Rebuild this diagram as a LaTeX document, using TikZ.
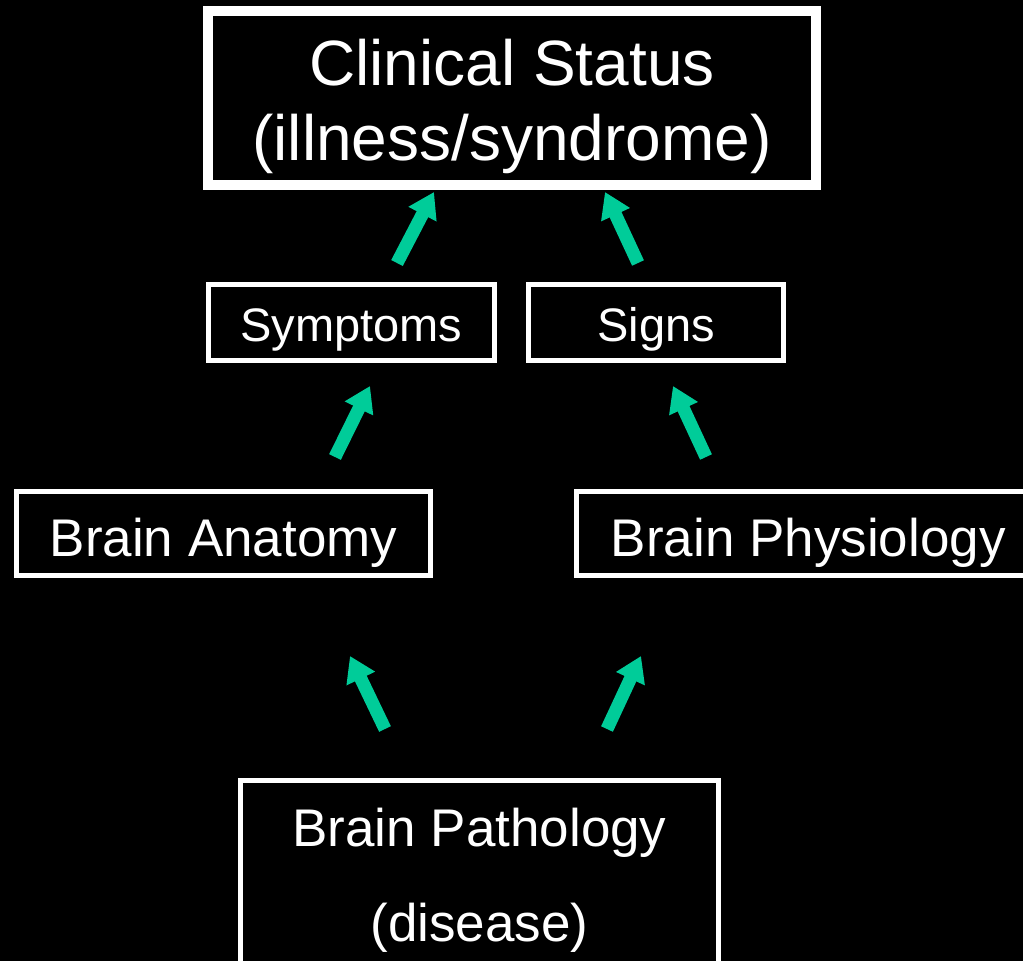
\documentclass[tikz,border=0pt]{standalone}
\usepackage{fontspec}
\setmainfont{Liberation Sans}
\usetikzlibrary{arrows.meta}
\definecolor{arrowgreen}{RGB}{0,204,153}
\begin{document}
\begin{tikzpicture}[x=1pt,y=-1pt,
  bigbox/.style={draw=white, line width=10pt, text=white, inner sep=0pt, align=center, font=\fontsize{64}{75}\selectfont},
  smallbox/.style={draw=white, line width=5pt, text=white, inner sep=0pt, align=center},
  blockarrow/.style={draw=arrowgreen, line width=13pt, -{Triangle[width=30pt,length=25pt]}}]
\fill[black] (0,0) rectangle (1023,961);
\useasboundingbox (0,0) rectangle (1023,961);
\node[bigbox, minimum width=608pt, minimum height=174pt] (clin) at (512,98) {\rule{0pt}{63pt}Clinical Status\\(illness/syndrome)};
\node[smallbox, minimum width=286pt, minimum height=76pt, font=\fontsize{47}{56}\selectfont] (symp) at (351.5,322.5) {\rule{0pt}{47pt}Symptoms};
\node[smallbox, minimum width=255pt, minimum height=76pt, font=\fontsize{47}{56}\selectfont] (sign) at (656,322.5) {\rule{0pt}{47pt}Signs};
\node[smallbox, minimum width=414pt, minimum height=84pt, font=\fontsize{53}{62}\selectfont] (anat) at (223.5,533.5) {\rule{0pt}{56pt}Brain Anatomy};
\node[smallbox, minimum width=463.5pt, minimum height=84pt, font=\fontsize{53}{62}\selectfont] (phys) at (808.25,533.5) {\rule{0pt}{56pt}Brain Physiology};
\node[smallbox, minimum width=478pt, minimum height=187pt, font=\fontsize{53}{95}\selectfont] (path) at (479.5,873.5) {\rule{0pt}{51pt}Brain Pathology\\(disease)};
% arrow end points
\coordinate (a1s) at (397,263); \coordinate (a1e) at (434,192);
\coordinate (a2s) at (638,263); \coordinate (a2e) at (605,192);
\coordinate (a3s) at (335,457); \coordinate (a3e) at (370,386);
\coordinate (a4s) at (706,457); \coordinate (a4e) at (673,386);
\coordinate (a5s) at (385,729); \coordinate (a5e) at (350,656);
\coordinate (a6s) at (607,729); \coordinate (a6e) at (641,656);
\draw[blockarrow] (a1s) -- (a1e);
\draw[blockarrow] (a2s) -- (a2e);
\draw[blockarrow] (a3s) -- (a3e);
\draw[blockarrow] (a4s) -- (a4e);
\draw[blockarrow] (a5s) -- (a5e);
\draw[blockarrow] (a6s) -- (a6e);
\end{tikzpicture}
\end{document}
